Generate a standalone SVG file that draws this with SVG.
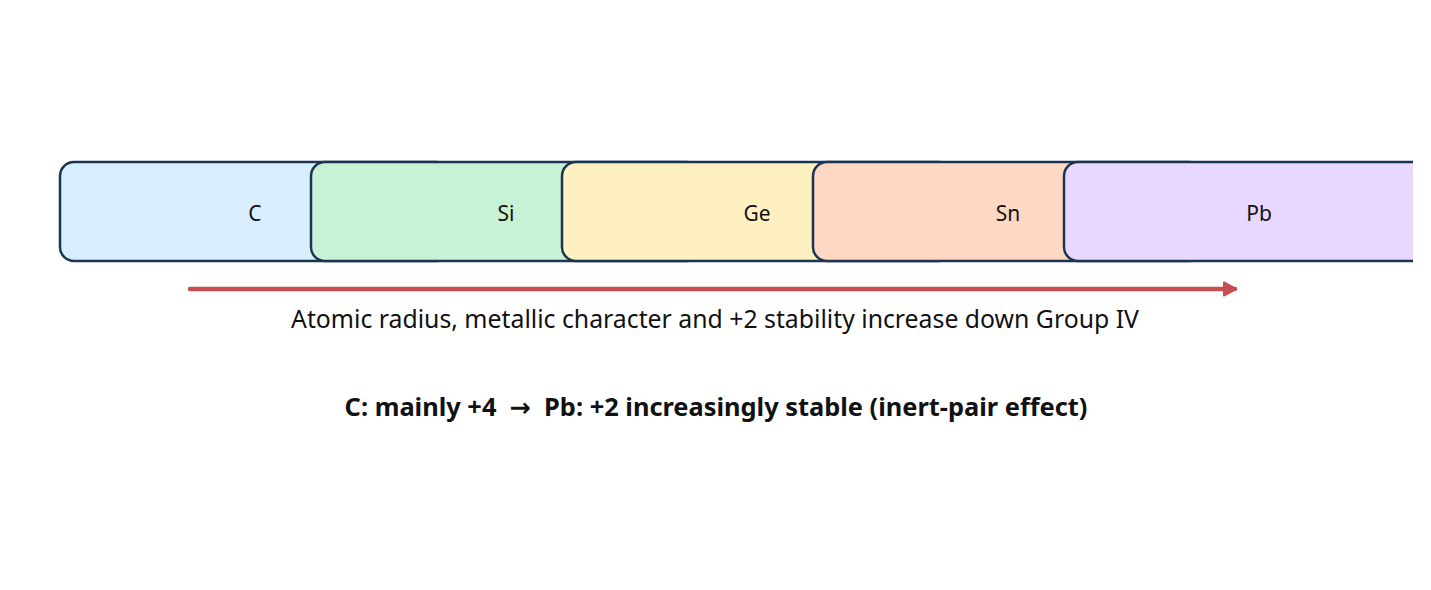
<svg xmlns="http://www.w3.org/2000/svg" width="1431" height="590" viewBox="0 0 1431 590">
<style>
.box{stroke:#1d3450;stroke-width:2.5}
.lbl{font-family:"Noto Sans","Open Sans",sans-serif;font-size:21px;fill:#111;text-anchor:middle;dominant-baseline:central}
.cap{font-family:"Noto Sans","Open Sans",sans-serif;font-size:24.8px;fill:#111;text-anchor:middle;white-space:pre}
.bold{font-weight:bold;font-size:25.4px}
</style>
<defs>
<clipPath id="clip"><rect x="0" y="0" width="1413" height="590"/></clipPath>
<marker id="ah" viewBox="0 0 16 16" refX="13" refY="8" markerWidth="16" markerHeight="16" orient="auto" markerUnits="userSpaceOnUse">
<path d="M2,1.5 L14,8 L2,14.5 z" fill="#c44e52" stroke="#c44e52" stroke-width="2" stroke-linejoin="round"/>
</marker>
</defs>
<rect width="1431" height="590" fill="#fff"/>
<g clip-path="url(#clip)">
<g id="node-C"><rect class="box" x="60" y="162" width="390" height="99" rx="14" fill="#d8eeff"/><text class="lbl" x="255" y="213">C</text></g>
<g id="node-Si"><rect class="box" x="311" y="162" width="390" height="99" rx="14" fill="#c8f2d6"/><text class="lbl" x="506" y="213">Si</text></g>
<g id="node-Ge"><rect class="box" x="562" y="162" width="390" height="99" rx="14" fill="#fff0c2"/><text class="lbl" x="757" y="213">Ge</text></g>
<g id="node-Sn"><rect class="box" x="813" y="162" width="390" height="99" rx="14" fill="#ffd8c4"/><text class="lbl" x="1008" y="213">Sn</text></g>
<g id="node-Pb"><rect class="box" x="1064" y="162" width="390" height="99" rx="14" fill="#e8d8ff"/><text class="lbl" x="1259" y="213">Pb</text></g>
</g>
<g id="connectors">
<line x1="190" y1="289" x2="1235" y2="289" stroke="#c44e52" stroke-width="4.5" stroke-linecap="round" marker-end="url(#ah)"/>
</g>
<text class="cap" x="715" y="328">Atomic radius, metallic character and +2 stability increase down Group IV</text>
<text class="cap bold" x="716" y="416" xml:space="preserve">C: mainly +4  <tspan font-family="'DejaVu Sans',sans-serif">→</tspan>  Pb: +2 increasingly stable (inert-pair effect)</text>
</svg>
